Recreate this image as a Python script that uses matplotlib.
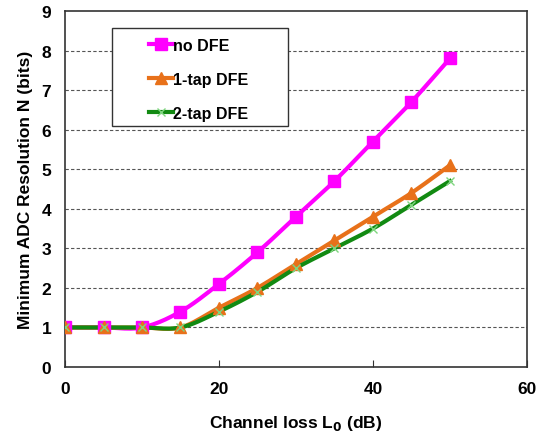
import numpy as np
import matplotlib
matplotlib.use("Agg")
import matplotlib.pyplot as plt
from matplotlib.patches import Rectangle

x = [0, 5, 10, 15, 20, 25, 30, 35, 40, 45, 50]
no_dfe = [1.0, 1.0, 1.0, 1.4, 2.1, 2.9, 3.8, 4.7, 5.7, 6.7, 7.8]
tap1 = [1.0, 1.0, 1.0, 1.0, 1.5, 2.0, 2.6, 3.2, 3.8, 4.4, 5.1]
tap2 = [1.0, 1.0, 1.0, 1.0, 1.4, 1.9, 2.5, 3.0, 3.5, 4.1, 4.7]
labels = ["no DFE", "1-tap DFE", "2-tap DFE"]

plt.rcParams['font.family'] = ['Liberation Sans', 'DejaVu Sans']


def smooth(xs, ys, n=20):
    # Excel-like smoothing (Catmull-Rom style Bezier)
    xs = np.asarray(xs, float); ys = np.asarray(ys, float)
    P = np.column_stack([xs, ys])
    out = []
    for i in range(len(P) - 1):
        p0 = P[i - 1] if i > 0 else P[i]
        p1 = P[i]; p2 = P[i + 1]
        p3 = P[i + 2] if i + 2 < len(P) else P[i + 1]
        c1 = p1 + (p2 - p0) / 6.0
        c2 = p2 - (p3 - p1) / 6.0
        t = np.linspace(0, 1, n, endpoint=(i == len(P) - 2))[:, None]
        seg = (1 - t) ** 3 * p1 + 3 * (1 - t) ** 2 * t * c1 + 3 * (1 - t) * t ** 2 * c2 + t ** 3 * p2
        out.append(seg)
    out = np.vstack(out)
    return out[:, 0], out[:, 1]


fig = plt.figure(figsize=(5.36, 4.39), dpi=100)
ax = fig.add_axes([0.1213, 0.1617, 0.983 - 0.1213, 0.9727 - 0.1617])

series = [
    (no_dfe, '#FF00FF', 's', 8, '#FF00FF', 1),
    (tap1, '#E8711A', '^', 8, '#E8711A', 1),
    (tap2, '#128A12', 'x', 6, '#7FD67F', 1),
]
handles = []
for (ys, col, mk, ms, mcol, mew), lab in zip(series, labels):
    sx, sy = smooth(x, ys)
    ax.plot(sx, sy, color=col, lw=3.0, zorder=3)
    ax.plot(x, ys, linestyle='none', marker=mk, markersize=ms,
            color=mcol, markeredgecolor=mcol, markeredgewidth=mew, zorder=4)
    h, = ax.plot([], [], color=col, lw=3.0, marker=mk, markersize=ms,
                 markerfacecolor=mcol, markeredgecolor=mcol)
    handles.append(h)

ax.set_xlim(0, 60)
ax.set_ylim(0, 9)
ax.set_xticks([0, 20, 40, 60])
ax.set_yticks(range(0, 10))
for yv in range(1, 9):
    ax.axhline(yv, color='#555555', lw=0.8, ls=(0, (3, 2)), zorder=1)

for s in ax.spines.values():
    s.set_color('#333333')
    s.set_linewidth(1.2)

ax.tick_params(axis='x', direction='in', length=5, pad=10, labelsize=12.5, color='#333333')
ax.tick_params(axis='y', direction='out', length=0, pad=10, labelsize=12.5)
for t in ax.get_xticklabels() + ax.get_yticklabels():
    t.set_fontweight('bold')

ax.set_xlabel('Channel loss L$_\\mathbf{0}$ (dB)', fontsize=12.5, fontweight='bold', labelpad=12)
ax.set_ylabel('Minimum ADC Resolution N (bits)', fontsize=12.5, fontweight='bold', labelpad=6)

# legend frame
box = Rectangle((0.1017, 0.677), 0.4827 - 0.1017, 0.952 - 0.677, transform=ax.transAxes,
                facecolor='white', edgecolor='#333333', lw=1.0, zorder=5)
ax.add_patch(box)
leg = ax.legend(handles, labels, loc='upper left', bbox_to_anchor=(0.1818, 0.925),
                frameon=False, handlelength=1.5, handletextpad=0.0, labelspacing=1.2,
                borderpad=0, prop={'weight': 'bold', 'size': 11.5}, borderaxespad=0)
leg.set_zorder(6)

fig.savefig('out.png', dpi=100)
